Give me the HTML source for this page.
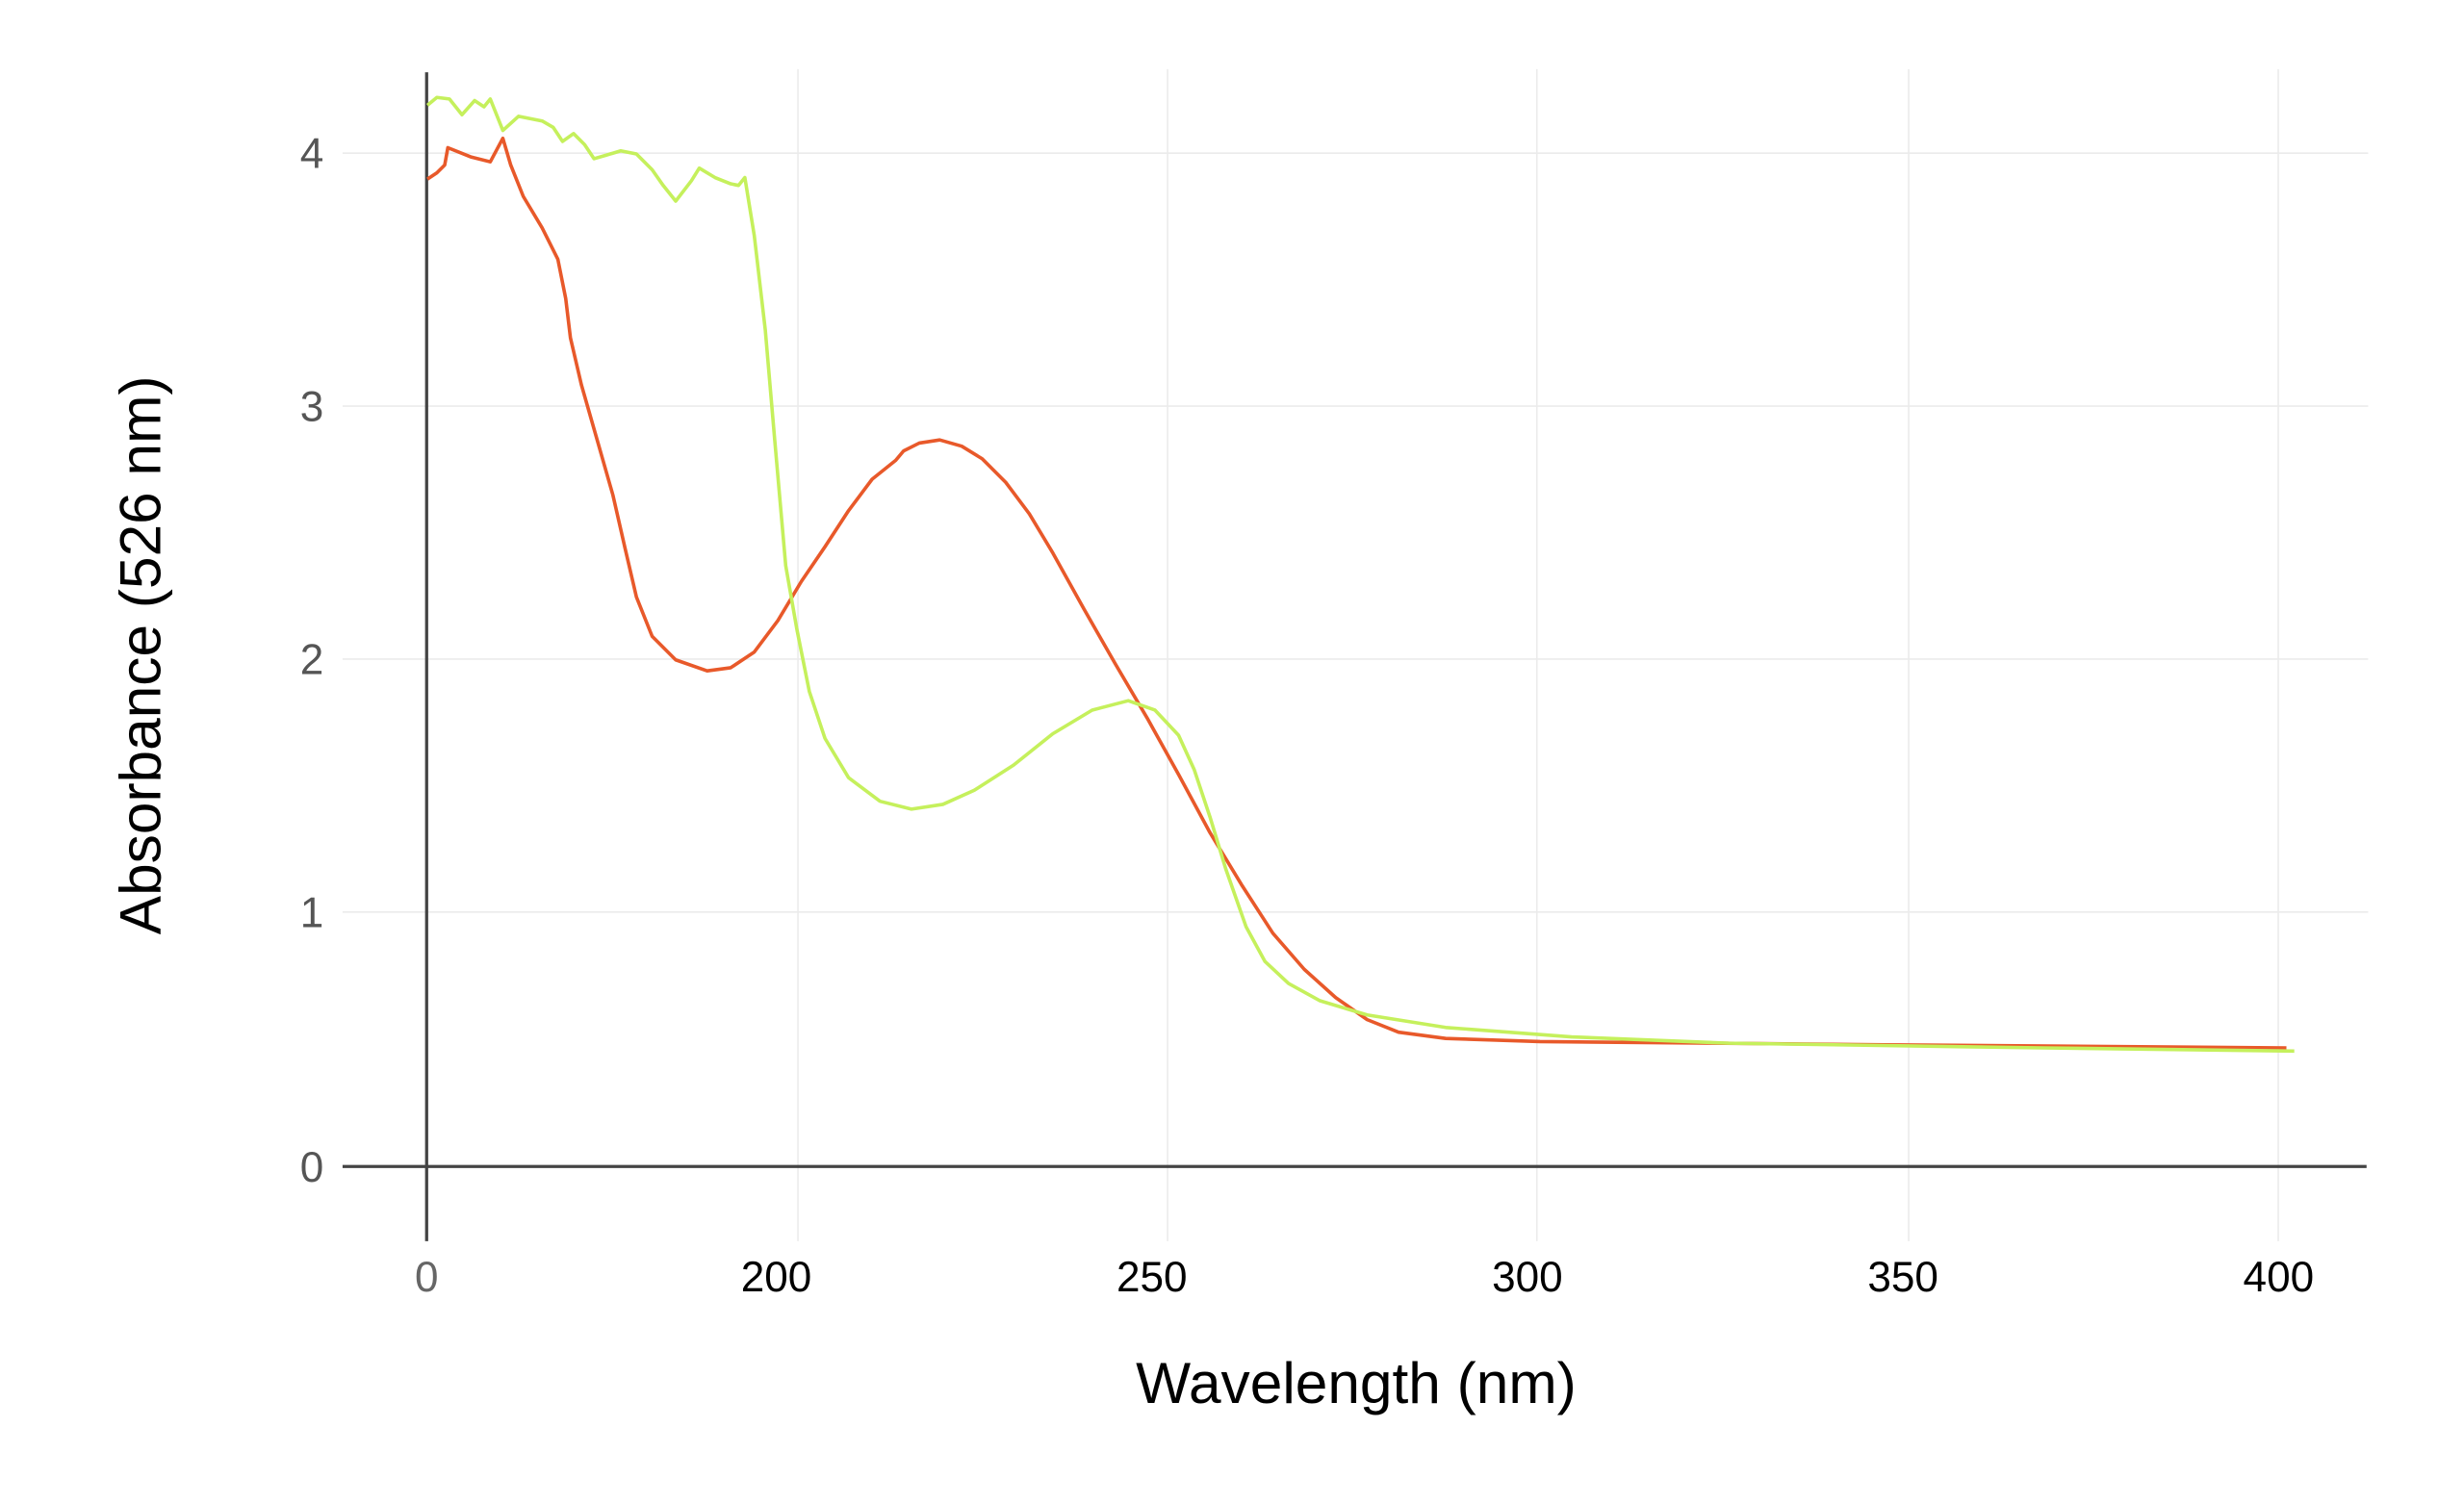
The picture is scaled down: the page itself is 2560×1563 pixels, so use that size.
<!DOCTYPE html>
<html><head><meta charset="utf-8"><style>
html,body{margin:0;padding:0;background:#fff;}
svg{display:block;}
text{font-family:"Liberation Sans",sans-serif;}
</style></head><body>
<svg width="2560" height="1563" viewBox="0 0 1568 957.3" xmlns="http://www.w3.org/2000/svg">
<rect width="1568" height="957.3" fill="#fff"/>
<g stroke="#ebebeb" stroke-width="1">
<line x1="218" y1="97.5" x2="1507" y2="97.5"/>
<line x1="218" y1="258.5" x2="1507" y2="258.5"/>
<line x1="218" y1="419.5" x2="1507" y2="419.5"/>
<line x1="218" y1="580.5" x2="1507" y2="580.5"/>
<line x1="507.8" y1="44" x2="507.8" y2="790"/>
<line x1="743" y1="44" x2="743" y2="790"/>
<line x1="978" y1="44" x2="978" y2="790"/>
<line x1="1214.6" y1="44" x2="1214.6" y2="790"/>
<line x1="1449.8" y1="44" x2="1449.8" y2="790"/>
</g>
<line x1="218" y1="742.5" x2="1506" y2="742.5" stroke="#444" stroke-width="2"/>
<line x1="271.5" y1="46" x2="271.5" y2="790" stroke="#444" stroke-width="2"/>
<g font-size="27" fill="#555" text-anchor="end">
<text x="206" y="107">4</text>
<text x="206" y="268">3</text>
<text x="206" y="429">2</text>
<text x="206" y="590">1</text>
<text x="206" y="752">0</text>
</g>
<g font-size="27" text-anchor="middle">
<text x="271.5" y="822" fill="#666">0</text>
<text x="494" y="822" fill="#000">200</text>
<text x="733" y="822" fill="#000">250</text>
<text x="972" y="822" fill="#000">300</text>
<text x="1211" y="822" fill="#000">350</text>
<text x="1450" y="822" fill="#000">400</text>
</g>
<text x="863" y="893" font-size="37" text-anchor="middle" fill="#000">Wavelength (nm)</text>
<text transform="translate(102,417) rotate(-90)" font-size="37" text-anchor="middle" fill="#000">Absorbance (526 nm)</text>
<polyline fill="none" stroke="#e8592a" stroke-width="2.2" stroke-linejoin="round" points="272,114 278,110 283,105 285,94 300,100 312,103 320,88 325,105 333,125 345,145 355,165 360,190 363,215 370,245 380,280 390,315 398,350 405,380 415,405 430,420 450,427 465,425 480,415 495,395 510,370 525,348 540,325 555,305 570,293 575,287 585,282 598,280 612,284 625,292 640,307 655,327 670,352 690,388 710,423 730,457 750,493 770,530 790,563 810,594 830,617 850,635 870,649 890,657 920,661 980,663 1200,665 1455,667"/>
<polyline fill="none" stroke="#c5f05c" stroke-width="2.2" stroke-linejoin="round" points="272,67 278,62 286,63 294,73 302,64 308,68 312,63 320,83 330,74 345,77 352,81 358,90 365,85 372,92 378,101 385,99 395,96 405,98 415,108 422,118 430,128 440,115 445,107 455,113 465,117 470,118 474,113 480,150 487,210 493,280 500,360 507,400 515,440 525,470 540,495 560,510 580,515 600,512 620,503 645,487 670,467 695,452 718,446 735,452 750,468 760,490 770,520 780,553 793,590 805,612 820,626 840,637 870,646 920,654 1000,660 1100,664 1300,667 1460,669"/>
</svg>
</body></html>
